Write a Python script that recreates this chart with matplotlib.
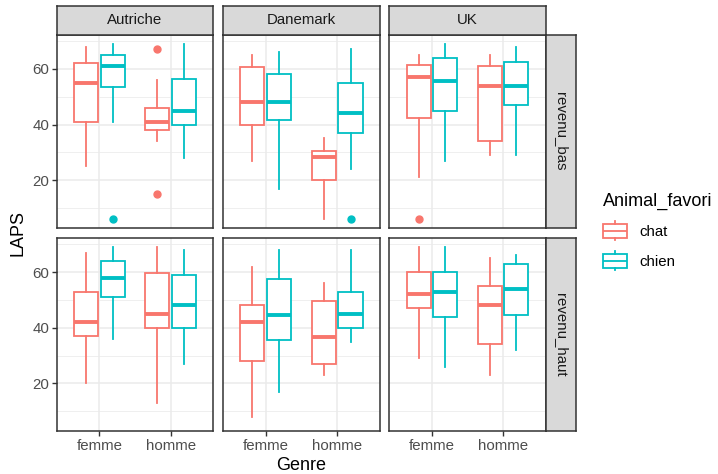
import numpy as np
import matplotlib.pyplot as plt
from matplotlib.patches import Patch, Rectangle
from matplotlib.lines import Line2D
from matplotlib.legend_handler import HandlerBase

plt.rcParams['font.family'] = ['Liberation Sans', 'DejaVu Sans']

# Données
pays = ["Autriche", "Danemark", "UK"]
revenus = ["revenu_bas", "revenu_haut"]
genres = ["femme", "homme"]
animaux = ["chat", "chien"]

# indices : [revenu][pays][genre][animal]
whislo = [[[[25, 41], [34, 28]], [[27, 17], [6, 24]], [[21, 27], [29, 29]]],
          [[[20, 36], [13, 27]], [[8, 17], [23, 35]], [[29, 26], [23, 32]]]]
q1 = [[[[41, 53.5], [38, 40]], [[40, 41.5], [20, 37]], [[42.5, 45], [34, 47]]],
      [[[37, 51], [40, 40]], [[28, 35.5], [27, 40]], [[47, 44], [34, 44.5]]]]
med = [[[[55, 61], [41, 45]], [[48, 48], [28.5, 44]], [[57, 55.5], [54, 54]]],
       [[[42, 58], [45, 48]], [[42, 44.5], [36.5, 45]], [[52, 53], [48, 54]]]]
q3 = [[[[62, 65], [46, 56.5]], [[60.5, 58], [30.5, 55]], [[61.5, 64], [61, 62.5]]],
      [[[53, 64], [59.5, 59]], [[48, 57.5], [49.5, 53]], [[60, 60], [55, 63]]]]
whishi = [[[[68, 69], [56, 69]], [[65, 66], [35, 67]], [[65, 69], [65, 68]]],
          [[[67, 69], [69, 68]], [[62, 68], [56, 68]], [[69, 69], [65, 66]]]]
outliers = [[[[[], [6]], [[15, 67], []]], [[[], []], [[], [6]]], [[[6], []], [[], []]]],
            [[[[], []], [[], []]], [[[], []], [[], []]], [[[], []], [[], []]]]]

couleurs = ["#F8766D", "#00BFC4"]

W, H = 718, 474
fig = plt.figure(figsize=(W / 100, H / 100), dpi=100)


def px(x1, y1, x2, y2):
    return [x1 / W, 1 - y2 / H, (x2 - x1) / W, (y2 - y1) / H]


cols = [(56.7, 213.3), (222.7, 380), (389.3, 545.7)]
rows = [(35, 228), (238.3, 431)]
gris20 = "#333333"
fs = 10.8

for r in range(2):
    for c in range(3):
        ax = fig.add_axes(px(cols[c][0], rows[r][0], cols[c][1], rows[r][1]))
        ax.set_xlim(0.4, 2.6)
        ax.set_ylim(2.85, 72.15)
        ax.set_yticks([20, 40, 60])
        ax.set_yticks([10, 30, 50, 70], minor=True)
        ax.set_xticks([1, 2])
        ax.grid(True, which='major', color='#EBEBEB', lw=1.1)
        ax.grid(True, which='minor', axis='y', color='#EBEBEB', lw=0.55)
        ax.set_axisbelow(True)
        for s in ax.spines.values():
            s.set_color(gris20)
            s.set_linewidth(1.1)
        ax.tick_params(which='minor', length=0)
        ax.tick_params(which='major', color=gris20, width=1.0, length=3.5,
                       labelcolor='#4D4D4D', labelsize=fs, pad=2)
        if r == 1:
            ax.set_xticklabels(genres)
        else:
            ax.tick_params(axis='x', length=0, labelbottom=False)
        if c != 0:
            ax.tick_params(axis='y', length=0, labelleft=False)

        for g in range(2):
            for a in range(2):
                col = couleurs[a]
                st = [{'med': med[r][c][g][a], 'q1': q1[r][c][g][a],
                       'q3': q3[r][c][g][a], 'whislo': whislo[r][c][g][a],
                       'whishi': whishi[r][c][g][a],
                       'fliers': outliers[r][c][g][a]}]
                pos = g + 1 + (a - 0.5) * 0.375
                ax.bxp(st, positions=[pos], widths=0.34, showcaps=False,
                       patch_artist=True, manage_ticks=False,
                       boxprops=dict(facecolor='white', edgecolor=col, lw=1.3),
                       whiskerprops=dict(color=col, lw=1.3),
                       medianprops=dict(color=col, lw=2.8, solid_capstyle='butt'),
                       flierprops=dict(marker='o', markerfacecolor=col,
                                       markeredgecolor=col, markersize=5,
                                       linestyle='none'))

        # bandeaux
        if r == 0:
            sax = fig.add_axes(px(cols[c][0], 5.7, cols[c][1], 35))
            sax.set_facecolor('#D9D9D9')
            sax.set_xticks([])
            sax.set_yticks([])
            for s in sax.spines.values():
                s.set_color(gris20)
                s.set_linewidth(1.1)
            sax.text(0.5, 0.5, pays[c], ha='center', va='center',
                     fontsize=fs, color='#1A1A1A', transform=sax.transAxes)
        if c == 2:
            sax = fig.add_axes(px(545.7, rows[r][0], 575.7, rows[r][1]))
            sax.set_facecolor('#D9D9D9')
            sax.set_xticks([])
            sax.set_yticks([])
            for s in sax.spines.values():
                s.set_color(gris20)
                s.set_linewidth(1.1)
            sax.text(0.5, 0.5, revenus[r], ha='center', va='center', rotation=-90,
                     fontsize=fs, color='#1A1A1A', transform=sax.transAxes)

fig.text(18 / W, 1 - 233 / H, "LAPS", rotation=90, ha='center', va='center', fontsize=13)
fig.text(301 / W, 1 - 465 / H, "Genre", ha='center', va='center', fontsize=13)


# petite boîte à moustaches pour la légende
class BoxHandler(HandlerBase):
    def create_artists(self, legend, orig_handle, xdescent, ydescent,
                       width, height, fontsize, trans):
        col = orig_handle.get_edgecolor()
        x0, y0 = -xdescent, -ydescent
        b0, b1 = y0 + 0.14 * height, y0 + 0.86 * height
        rect = Rectangle((x0, b0), width, b1 - b0, facecolor='white',
                         edgecolor=col, lw=1.3, transform=trans)
        xm = x0 + width / 2
        w1 = Line2D([xm, xm], [y0, b0], color=col, lw=1.3, transform=trans)
        w2 = Line2D([xm, xm], [b1, y0 + height], color=col, lw=1.3, transform=trans)
        m = Line2D([x0, x0 + width], [y0 + height / 2] * 2, color=col, lw=1.3,
                   solid_capstyle='butt', transform=trans)
        return [rect, w1, w2, m]


handles = [Patch(edgecolor=couleurs[i], facecolor='white') for i in range(2)]
leg = fig.legend(handles, animaux, handler_map={Patch: BoxHandler()},
                 loc='upper left', bbox_to_anchor=(603 / W, 1 - 193 / H),
                 frameon=False, title="Animal_favori", title_fontsize=13,
                 fontsize=fs, handlelength=1.6, handleheight=1.6,
                 handletextpad=0.85, labelspacing=0.72, borderpad=0,
                 borderaxespad=0, alignment='left')

fig.savefig("out.png", dpi=100)
